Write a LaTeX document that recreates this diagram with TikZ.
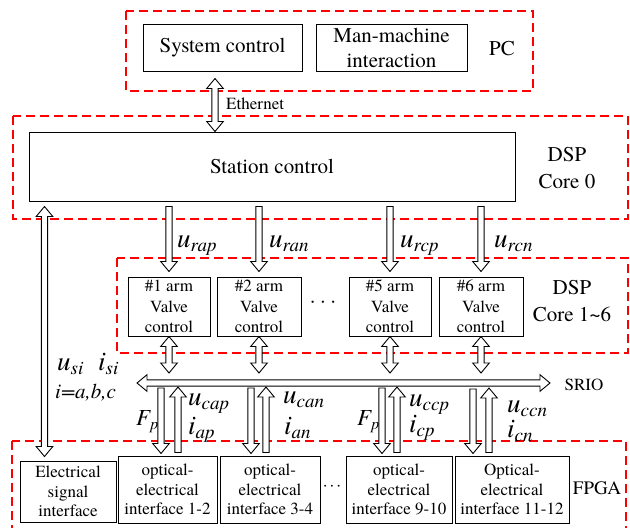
\documentclass[tikz,border=0pt]{standalone}
\usepackage{fontspec}
\setmainfont{texgyretermes}[Extension=.otf, UprightFont=*-regular, ItalicFont=*-italic, BoldFont=*-bold, BoldItalicFont=*-bolditalic]
\usetikzlibrary{calc}
\def\arrS{3.1pt}\def\arrW{8.3pt}\def\arrL{10pt}
\newcommand\sarr[2]{%
 \draw[harrow] let \p1=(#1), \p2=(#2), \p3=($(#2)!\arrL!(#1)$) in
  ($(\p1)!\arrS!90:(\p2)$) -- ($(\p3)!\arrS!90:(\p2)$) -- ($(\p3)!\arrW!90:(\p2)$) -- (\p2)
  -- ($(\p3)!\arrW!-90:(\p2)$) -- ($(\p3)!\arrS!-90:(\p2)$) -- ($(\p1)!\arrS!-90:(\p2)$) -- cycle;}
\newcommand\darr[2]{%
 \draw[harrow] let \p1=(#1), \p2=(#2), \p3=($(#2)!\arrL!(#1)$), \p4=($(#1)!\arrL!(#2)$) in
  (\p1) -- ($(\p4)!\arrW!90:(\p2)$) -- ($(\p4)!\arrS!90:(\p2)$) -- ($(\p3)!\arrS!90:(\p2)$)
  -- ($(\p3)!\arrW!90:(\p2)$) -- (\p2) -- ($(\p3)!\arrW!-90:(\p2)$) -- ($(\p3)!\arrS!-90:(\p2)$)
  -- ($(\p4)!\arrS!-90:(\p2)$) -- ($(\p4)!\arrW!-90:(\p2)$) -- cycle;}
\newcommand\sublab[4]{{\fontsize{#1}{#1}\selectfont\itshape #3\raisebox{-4.5pt}{\fontsize{#2}{#2}\selectfont #4}}}
\begin{document}
\begin{tikzpicture}[x=1pt,y=-1pt,
  box/.style={draw, line width=1pt, inner sep=0pt, align=center},
  bigtxt/.style={font=\fontsize{21}{25}\selectfont},
  smtxt/.style={font=\fontsize{17}{20}\selectfont},
  grp/.style={draw=red, line width=1.2pt, dash pattern=on 9pt off 5pt},
  harrow/.style={draw=black, fill=white, line width=0.9pt, line join=miter},
  lab/.style={inner sep=0pt, anchor=base west}]
\clip (0,0) rectangle (630,528);
\useasboundingbox (0,0) rectangle (630,528);
% groups
\draw[grp] (126,11) rectangle (533,91);
\draw[grp] (13,116) rectangle (628,219);
\draw[grp] (117,258) rectangle (628,353);
\draw[grp] (12,441) rectangle (626,545);
% PC
\node[box, bigtxt, minimum width=159, minimum height=47] (sys) at (222.5,47.5) {System control};
\node[box, bigtxt, minimum width=151, minimum height=47] (mmi) at (391.5,47.5) {Man-machine\\interaction};
\node[bigtxt, inner sep=0pt] (pc) at (502,49) {PC};
% station
\node[box, bigtxt, minimum width=486, minimum height=69] (st) at (272,166.5) {Station control};
\node[bigtxt, inner sep=0pt, align=center, font=\fontsize{21}{27}\selectfont] (dsp0) at (567,168.5) {DSP\\Core 0};
% valves
\node[box, smtxt, font=\fontsize{17}{20.5}\selectfont, minimum width=82, minimum height=59] (v1) at (169,306.5) {\#1 arm\\Valve\\control};
\node[box, smtxt, font=\fontsize{17}{20.5}\selectfont, minimum width=84, minimum height=59] (v2) at (259,306.5) {\#2 arm\\Valve\\control};
\node[box, smtxt, font=\fontsize{17}{20.5}\selectfont, minimum width=82, minimum height=59] (v5) at (390,306.5) {\#5 arm\\Valve\\control};
\node[box, smtxt, font=\fontsize{17}{20.5}\selectfont, minimum width=84, minimum height=59] (v6) at (481,306.5) {\#6 arm\\Valve\\control};
\node[inner sep=0pt, font=\fontsize{21}{21}\selectfont] (vd) at (323,304) {·\hspace{5pt}·\hspace{5pt}·};
\node[inner sep=0pt, align=center, font=\fontsize{21}{27}\selectfont] (dsp16) at (572,301.5) {DSP\\Core 1\textasciitilde 6};
% FPGA
\node[box, smtxt, font=\fontsize{17}{19.5}\selectfont, minimum width=96, minimum height=61] (el) at (68,491.5) {Electrical\\signal\\interface};
\node[box, smtxt, font=\fontsize{17}{19.5}\selectfont, minimum width=99, minimum height=67] (o1) at (167.5,489.5) {optical-\\electrical\\interface 1-2};
\node[box, smtxt, font=\fontsize{17}{19.5}\selectfont, minimum width=100, minimum height=67] (o2) at (270,489.5) {optical-\\electrical\\interface 3-4};
\node[box, smtxt, font=\fontsize{17}{19.5}\selectfont, minimum width=106, minimum height=67] (o3) at (399,489.5) {optical-\\electrical\\interface 9-10};
\node[box, smtxt, font=\fontsize{17}{19.5}\selectfont, minimum width=114, minimum height=67] (o4) at (512,489.5) {Optical-\\electrical\\interface 11-12};
\node[inner sep=0pt, font=\fontsize{17}{17}\selectfont] (od) at (332,488) {·\hspace{2.5pt}·\hspace{2.5pt}·};
\node[inner sep=0pt, font=\fontsize{19}{19}\selectfont] (fpga) at (597,488) {FPGA};
\node[inner sep=0pt, font=\fontsize{17}{17}\selectfont] (srio) at (584,385) {SRIO};
% Ethernet
\coordinate (e1) at ($(sys.south)+(-7.5,7)$);
\coordinate (e2) at (st.north -| e1);
\darr{e1}{e2}
\node[inner sep=0pt, anchor=west, font=\fontsize{17}{17}\selectfont] (eth) at (226,104) {Ethernet};
% station -> valves
\foreach \v in {v1,v2,v5,v6}{
  \coordinate (a\v) at ($(st.south -| \v.north)+(0,5)$);
  \coordinate (b\v) at ($(\v.north)+(0,-5)$);
  \sarr{a\v}{b\v}
}
% bus
\coordinate (busL) at (137,383);
\coordinate (busR) at (550,383);
\darr{busL}{busR}
\foreach \v in {v1,v2,v5,v6}{
  \coordinate (c\v) at ($(\v.south |- busL)+(0,-10)$);
  \darr{\v.south}{c\v}
}
% bus -> interfaces
\coordinate (d1) at (161,388); \coordinate (u1) at (178,387);
\coordinate (d2) at (251,388); \coordinate (u2) at (266,387);
\coordinate (d3) at (382,388); \coordinate (u3) at (397,387);
\coordinate (d4) at (473,389); \coordinate (u4) at (489,388);
\foreach \i/\o in {1/o1,2/o2,3/o3,4/o4}{
  \coordinate (dd\i) at ($(d\i |- \o.north)+(0,-2)$);
  \coordinate (uu\i) at ($(u\i |- \o.north)+(0,-3)$);
  \sarr{d\i}{dd\i}
  \sarr{uu\i}{u\i}
}
% electrical signal
\coordinate (s1) at ($(st.south west)+(16,5)$);
\coordinate (s2) at ($(s1 |- el.north)+(0,-4)$);
\darr{s1}{s2}
% labels
\node[lab] (lrap) at (177,247) {\sublab{27}{19}{u}{rap}};
\node[lab] (lran) at (269,247) {\sublab{27}{19}{u}{ran}};
\node[lab] (lrcp) at (400,247) {\sublab{27}{19}{u}{rcp}};
\node[lab] (lrcn) at (494,247) {\sublab{27}{19}{u}{rcn}};
\node[lab] (lcap) at (188,405) {\sublab{27}{19}{u}{cap}};
\node[lab] (liap) at (188,434) {\sublab{27}{19}{i}{ap}};
\node[lab] (lcan) at (283,403) {\sublab{27}{19}{u}{can}};
\node[lab] (lian) at (284,434) {\sublab{27}{19}{i}{an}};
\node[lab] (lccp) at (409,406) {\sublab{27}{19}{u}{ccp}};
\node[lab] (licp) at (409,432) {\sublab{27}{19}{i}{cp}};
\node[lab] (lccn) at (507,412) {\sublab{27}{19}{u}{ccn}};
\node[lab] (licn) at (507,437) {\sublab{27}{19}{i}{cn}};
\node[lab] (lfp1) at (136,425) {\sublab{23}{16}{F}{p}};
\node[lab] (lfp3) at (357,425) {\sublab{23}{16}{F}{p}};
\node[lab] (lusi) at (57,370) {\sublab{27}{19}{u}{si}};
\node[lab] (lisi) at (98,370) {\sublab{27}{19}{i}{si}};
\node[lab, font=\fontsize{21}{21}\selectfont\itshape] (labc) at (55,398) {i=a,b,c};
\end{tikzpicture}
\end{document}
